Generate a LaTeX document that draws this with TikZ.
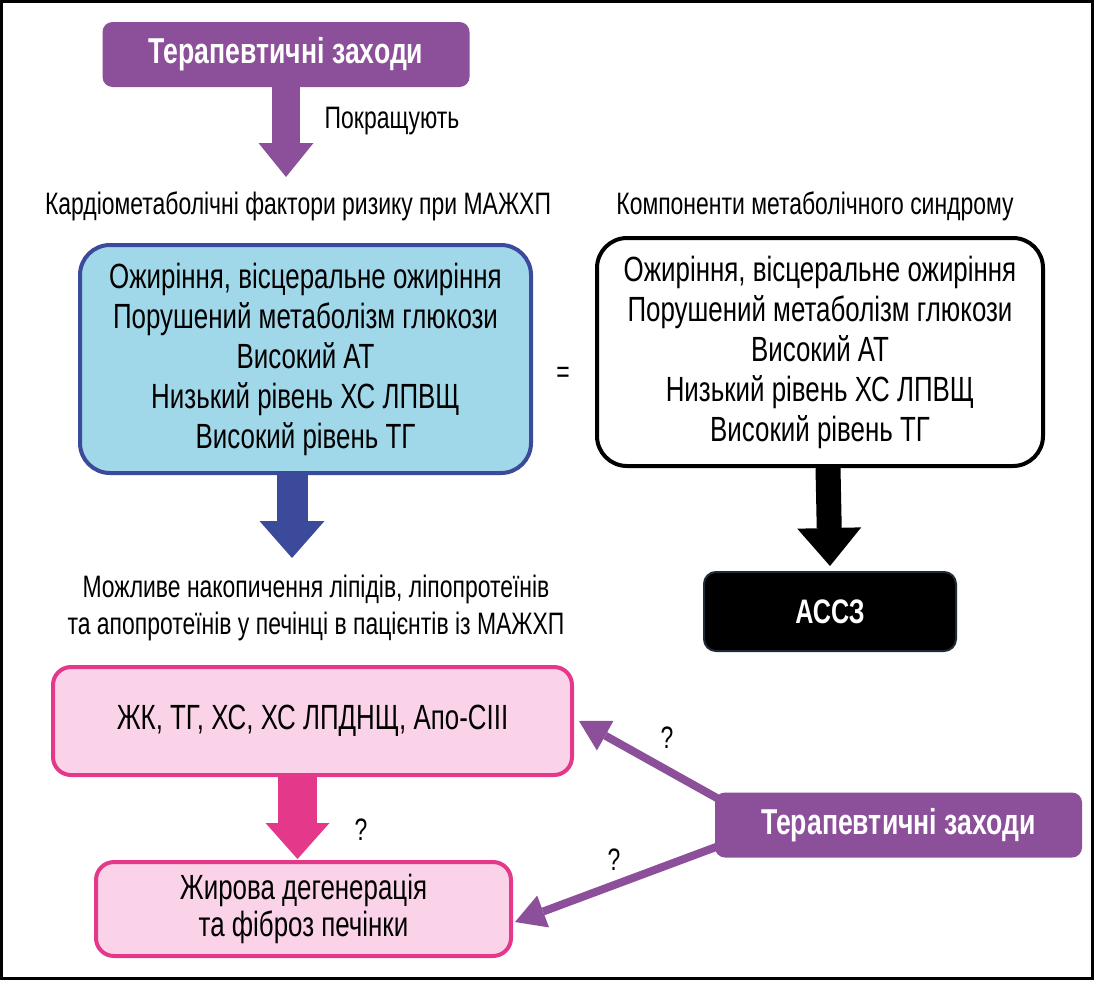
\documentclass[tikz,border=0pt]{standalone}
\usepackage{fontspec}
\setmainfont[FakeStretch=0.74]{Liberation Sans}
\usepackage{tikz}
\usetikzlibrary{positioning}
\usetikzlibrary{arrows.meta, backgrounds}
\definecolor{therapy}{HTML}{8C4F9A}
\definecolor{riskfill}{HTML}{A0D8EA}
\definecolor{riskline}{HTML}{3B4A9B}
\definecolor{liverfill}{HTML}{FAD3E8}
\definecolor{liverline}{HTML}{E4388A}
\definecolor{ascvdline}{HTML}{1E2A38}
\tikzstyle{therbox} = [rectangle, rounded corners=10pt, fill=therapy, text=white, font=\fontsize{36}{40}\selectfont\bfseries, minimum width=367pt, minimum height=65pt]
\tikzstyle{listbox} = [rectangle, rounded corners=30pt, line width=4pt, align=center, font=\fontsize{35}{40}\selectfont]
\tikzstyle{liverbox} = [rectangle, rounded corners=18pt, line width=4pt, draw=liverline, fill=liverfill, align=center, font=\fontsize{35}{37}\selectfont]
\tikzstyle{caption} = [align=center, font=\fontsize{31}{37}\selectfont]
\tikzset{blockarrow/.style n args={3}{line width=#1, -{Triangle[width=#2,length=#3,line width=0pt]}}}

\begin{document}
\begin{tikzpicture}[x=1pt,y=-1pt]
\useasboundingbox (0,0) rectangle (1094,980);
\draw[line width=3pt] (1.5,1.5) rectangle (1092.5,978.5);

\node (ther1) [therbox] at (286,54.5) {Терапевтичні заходи};
\node (improve) [caption] at (392,121) {Покращують};
\coordinate (t1) at (286,177);

\node (head1) [caption] at (298,206) {Кардіометаболічні фактори ризику при МАЖХП};
\node (head2) [caption] at (815,206) {Компоненти метаболічного синдрому};

\node (risk) [listbox, draw=riskline, fill=riskfill, minimum width=451pt, minimum height=228pt] at (305.5,359) {Ожиріння, вісцеральне ожиріння\\Порушений метаболізм глюкози\\Високий АТ\\Низький рівень ХС ЛПВЩ\\Високий рівень ТГ};
\node (eq) [caption] at (563,375) {=};
\node (metsyn) [listbox, draw=black, fill=white, minimum width=446pt, minimum height=228pt] at (820,352) {Ожиріння, вісцеральне ожиріння\\Порушений метаболізм глюкози\\Високий АТ\\Низький рівень ХС ЛПВЩ\\Високий рівень ТГ};

\node (ascvd) [rectangle, rounded corners=12pt, line width=2pt, draw=ascvdline, fill=black, text=white, font=\fontsize{34}{38}\selectfont\bfseries, minimum width=252pt, minimum height=79pt] at (830,611.5) {АССЗ};
\coordinate (t2) at (292,558);

\node (accum) [caption] at (316,608) {Можливе накопичення ліпідів, ліпопротеїнів\\та апопротеїнів у печінці в пацієнтів із МАЖХП};

\node (lip) [liverbox, minimum width=519pt, minimum height=108pt] at (312.5,721) {ЖК, ТГ, ХС, ХС ЛПДНЩ, Апо-CIII};
\node (fat) [liverbox, minimum width=415pt, minimum height=94pt] at (303.5,909) {Жирова дегенерація\\та фіброз печінки};
\node (q1) [caption] at (361,830) {?};

\node (ther2) [therbox] at (898.5,825) {Терапевтичні заходи};
\node (q2) [caption] at (667,738) {?};
\node (q3) [caption] at (614,860) {?};

\begin{pgfonlayer}{background}
\draw [blockarrow={28pt}{55pt}{34pt}, therapy] (ther1.south) -- (t1);
\draw [blockarrow={31pt}{65pt}{37pt}, riskline] ([xshift=-13.5pt]risk.south) -- (t2);
\draw [blockarrow={25pt}{64pt}{38pt}, black] ([xshift=8pt]metsyn.south) -- ([yshift=5pt]ascvd.north);
\draw [blockarrow={39pt}{64pt}{36pt}, liverline] ([xshift=-15pt]lip.south) -- ([xshift=-6pt,yshift=1pt]fat.north);
\draw [blockarrow={8pt}{34pt}{30pt}, therapy] ([xshift=20pt,yshift=17pt]ther2.west) -- ([xshift=5pt]lip.east);
\draw [blockarrow={8pt}{34pt}{30pt}, therapy] ([xshift=20pt,yshift=-15pt]ther2.west) -- ([xshift=2pt,yshift=-13pt]fat.east);
\end{pgfonlayer}
\end{tikzpicture}
\end{document}
